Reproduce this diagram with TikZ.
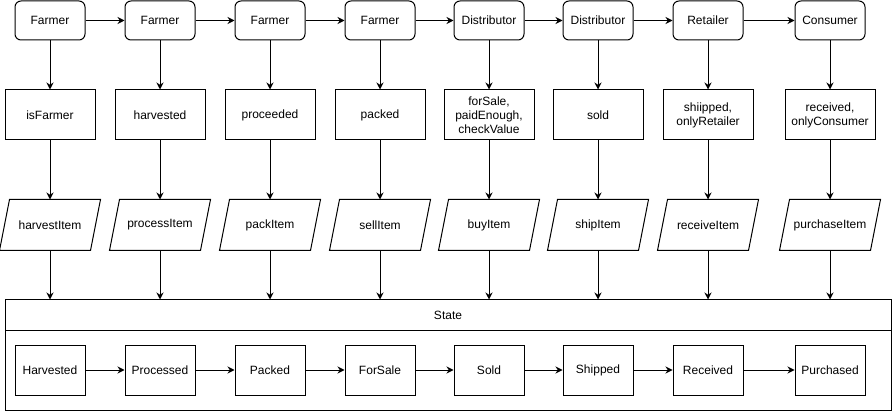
\documentclass[tikz,border=0pt]{standalone}
\usepackage{fontspec}
\setmainfont{Liberation Sans}
\usetikzlibrary{arrows.meta}

\begin{document}
\begin{tikzpicture}[x=1pt, y=-1pt, line width=1pt,
    font=\fontsize{12}{14}\selectfont,
    role/.style={draw, rounded corners=6pt, minimum width=70pt, minimum height=39pt, inner sep=0pt},
    check/.style={draw, minimum width=90pt, minimum height=50pt, inner sep=0pt, align=center},
    func/.style={minimum width=90pt, minimum height=50pt, inner sep=0pt},
    stat/.style={draw, minimum width=70pt, minimum height=50pt, inner sep=0pt},
    arr/.style={-{Stealth[length=7pt, width=7pt]}}]
    \useasboundingbox (0,0) rectangle (896,411);

    % Draw nodes
    \node[role] (a1) at (50,20.5) {Farmer};
    \node[role] (a2) at (160,20.5) {Farmer};
    \node[role] (a3) at (270,20.5) {Farmer};
    \node[role] (a4) at (380,20.5) {Farmer};
    \node[role] (a5) at (489,20.5) {Distributor};
    \node[role] (a6) at (598,20.5) {Distributor};
    \node[role] (a7) at (708,20.5) {Retailer};
    \node[role] (a8) at (830,20.5) {Consumer};

    \node[check] (c1) at (50,115) {isFarmer};
    \node[check] (c2) at (160,115) {harvested};
    \node[check] (c3) at (270,115) {proceeded};
    \node[check] (c4) at (380,115) {packed};
    \node[check] (c5) at (489,115) {forSale,\\paidEnough,\\checkValue};
    \node[check] (c6) at (598,115) {sold};
    \node[check] (c7) at (708,115) {shiipped,\\onlyRetailer};
    \node[check] (c8) at (830,115) {received,\\onlyConsumer};

    \node[func] (f1) at (50,225) {harvestItem};
    \node[func] (f2) at (160,225) {processItem};
    \node[func] (f3) at (270,225) {packItem};
    \node[func] (f4) at (380,225) {sellItem};
    \node[func] (f5) at (489,225) {buyItem};
    \node[func] (f6) at (598,225) {shipItem};
    \node[func] (f7) at (708,225) {receiveItem};
    \node[func] (f8) at (830,225) {purchaseItem};

    % Parallelogram outlines
    \foreach \i in {1,...,8}
        \draw ([xshift=5pt]f\i.north west) -- ([xshift=5pt]f\i.north east)
            -- ([xshift=-5pt]f\i.south east) -- ([xshift=-5pt]f\i.south west) -- cycle;

    % State box
    \node[draw, minimum width=886pt, minimum height=110pt, inner sep=0pt] (state) at (448,355) {};
    \node (title) at (448,315.5) {State};
    \coordinate (sl) at (5,330);
    \coordinate (sr) at (891,330);
    \draw (sl) -- (sr);

    \node[stat] (s1) at (50,370) {Harvested};
    \node[stat] (s2) at (160,370) {Processed};
    \node[stat] (s3) at (270,370) {Packed};
    \node[stat] (s4) at (380,370) {ForSale};
    \node[stat] (s5) at (489,370) {Sold};
    \node[stat] (s6) at (598,370) {Shipped};
    \node[stat] (s7) at (708,370) {Received};
    \node[stat] (s8) at (830,370) {Purchased};

    % Draw connections
    \draw[arr] (a1) -- (a2);
    \draw[arr] (a2) -- (a3);
    \draw[arr] (a3) -- (a4);
    \draw[arr] (a4) -- (a5);
    \draw[arr] (a5) -- (a6);
    \draw[arr] (a6) -- (a7);
    \draw[arr] (a7) -- (a8);

    \draw[arr] (a1) -- (c1);
    \draw[arr] (a2) -- (c2);
    \draw[arr] (a3) -- (c3);
    \draw[arr] (a4) -- (c4);
    \draw[arr] (a5) -- (c5);
    \draw[arr] (a6) -- (c6);
    \draw[arr] (a7) -- (c7);
    \draw[arr] (a8) -- (c8);

    \draw[arr] (c1) -- (f1);
    \draw[arr] (c2) -- (f2);
    \draw[arr] (c3) -- (f3);
    \draw[arr] (c4) -- (f4);
    \draw[arr] (c5) -- (f5);
    \draw[arr] (c6) -- (f6);
    \draw[arr] (c7) -- (f7);
    \draw[arr] (c8) -- (f8);

    \draw[arr] (f1) -- (f1 |- state.north);
    \draw[arr] (f2) -- (f2 |- state.north);
    \draw[arr] (f3) -- (f3 |- state.north);
    \draw[arr] (f4) -- (f4 |- state.north);
    \draw[arr] (f5) -- (f5 |- state.north);
    \draw[arr] (f6) -- (f6 |- state.north);
    \draw[arr] (f7) -- (f7 |- state.north);
    \draw[arr] (f8) -- (f8 |- state.north);

    \draw[arr] (s1) -- (s2);
    \draw[arr] (s2) -- (s3);
    \draw[arr] (s3) -- (s4);
    \draw[arr] (s4) -- (s5);
    \draw[arr] (s5) -- (s6);
    \draw[arr] (s6) -- (s7);
    \draw[arr] (s7) -- (s8);
\end{tikzpicture}
\end{document}
